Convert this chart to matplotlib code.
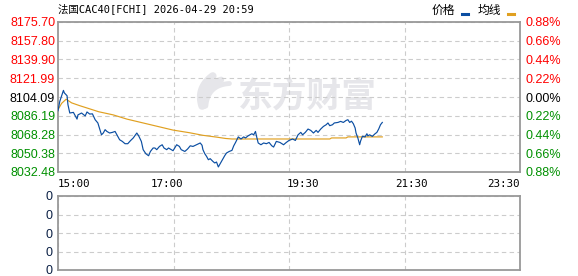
import matplotlib
matplotlib.use("Agg")
import matplotlib.pyplot as plt
import numpy as np
from matplotlib.lines import Line2D

plt.rcParams['font.family'] = ['Liberation Sans', 'Noto Sans CJK SC', 'DejaVu Sans']

title = "法国CAC40[FCHI] 2026-04-29 20:59"
prev_close = 8104.09
price_ticks = [8032.48, 8050.38, 8068.28, 8086.19, 8104.09, 8121.99, 8139.90, 8157.80, 8175.70]
pct_labels = ["0.88%", "0.66%", "0.44%", "0.22%", "0.00%", "0.22%", "0.44%", "0.66%", "0.88%"]
time_ticks = [0, 120, 270, 390, 510]          # minutes after 15:00
time_labels = ["15:00", "17:00", "19:30", "21:30", "23:30"]
vol_ticks = [0, 1, 2, 3, 4]
vol_labels = ["0", "0", "0", "0", "0"]

# price (minutes after 15:00)
price_min = [0, 2, 6, 7, 10, 11, 13, 17, 21, 22, 26, 30, 32, 35, 38, 41, 44, 46, 48, 50,
             52, 54, 57, 60, 63, 66, 68, 71, 74, 77, 80, 83, 87, 89, 92, 94, 97, 100, 102, 105,
             107, 109, 112, 115, 117, 120, 122, 125, 127, 131, 134, 136, 140, 143, 146, 149, 153, 157, 159, 160,
             162, 164, 166, 168, 171, 173, 175, 177, 179, 182, 184, 186, 189, 192, 194, 196, 199, 202, 205, 207,
             210, 214, 216, 218, 219, 221, 224, 227, 230, 233, 236, 238, 241, 245, 249, 252, 255, 259, 262, 265,
             268, 270, 273, 276, 279, 282, 285, 287, 290, 293, 296, 298, 300, 303, 305, 309, 312, 315, 318, 320,
             322, 324, 326, 328, 329, 331, 332, 333, 334, 336, 339, 341, 342, 344, 347, 350, 352, 354, 356, 358]
price_val = [8091.0, 8100.0, 8110.4, 8108.0, 8105.3, 8096.7, 8088.8, 8089.4, 8083.0, 8087.0,
             8088.8, 8086.0, 8089.8, 8087.8, 8088.0, 8082.4, 8079.3, 8073.5, 8068.0, 8069.7,
             8072.9, 8071.2, 8069.7, 8070.3, 8071.2, 8066.5, 8063.3, 8061.7, 8059.5, 8059.5,
             8062.4, 8064.9, 8069.7, 8067.1, 8061.7, 8053.8, 8049.9, 8048.0, 8052.1, 8055.4,
             8055.4, 8053.8, 8056.9, 8058.5, 8055.4, 8053.8, 8055.4, 8053.8, 8052.8, 8058.5,
             8056.9, 8053.8, 8052.1, 8054.4, 8057.5, 8056.9, 8058.5, 8060.2, 8058.0, 8053.8,
             8050.0, 8047.4, 8044.2, 8045.2, 8042.6, 8041.1, 8042.0, 8037.3, 8040.4, 8044.9,
             8048.0, 8050.6, 8052.1, 8053.1, 8057.5, 8060.7, 8066.0, 8064.0, 8066.0, 8065.0,
             8067.1, 8069.0, 8068.0, 8071.2, 8067.1, 8060.2, 8058.5, 8060.2, 8059.5, 8060.7,
             8057.5, 8056.3, 8061.7, 8060.7, 8058.5, 8060.7, 8062.6, 8064.0, 8062.6, 8068.0,
             8070.3, 8068.0, 8070.3, 8073.5, 8072.2, 8069.7, 8072.2, 8070.3, 8073.5, 8076.0,
             8077.6, 8079.3, 8076.7, 8077.6, 8079.3, 8079.8, 8080.8, 8079.8, 8081.7, 8082.4,
             8079.8, 8081.0, 8078.6, 8074.5, 8069.7, 8065.0, 8061.7, 8058.5, 8062.0, 8066.5,
             8066.0, 8069.0, 8067.0, 8068.0, 8066.5, 8069.0, 8070.3, 8073.5, 8077.6, 8079.8]

# average line
avg_min = [0, 4, 9, 15, 24, 32, 45, 61, 76, 94, 110, 127, 145, 160, 175, 185, 192,
           300, 302, 318, 320, 358]
avg_val = [8092.0, 8098.0, 8102.0, 8098.5, 8095.8, 8093.6, 8090.0, 8087.0, 8083.0, 8079.3,
           8076.0, 8072.5, 8070.0, 8067.5, 8065.8, 8064.5, 8064.0, 8064.0, 8065.0, 8065.0,
           8066.0, 8066.0]

RED = "#ff0000"
GREEN = "#009000"
GRID = "#cccccc"
SPINE = "#999999"


def tick_color(v):
    if abs(v - prev_close) < 0.005:
        return "black"
    return RED if v > prev_close else GREEN


W, H = 578, 276
fig = plt.figure(figsize=(W / 100, H / 100), dpi=100)
ax = fig.add_axes([58 / W, 104 / H, 462 / W, 150 / H])
axv = fig.add_axes([58 / W, 6 / H, 462 / W, 74 / H])

quarters = np.linspace(time_ticks[0], time_ticks[-1], 5)

for a in (ax, axv):
    a.set_xlim(time_ticks[0], time_ticks[-1])
    for s in a.spines.values():
        s.set_color(SPINE)
        s.set_linewidth(1.3)
    a.set_xticks(quarters, minor=True)
    a.grid(True, which='minor', axis='x', color=GRID, linestyle=(0, (4, 3)), linewidth=0.8)
    a.grid(True, which='major', axis='y', color=GRID, linestyle=(0, (4, 3)), linewidth=0.8)
    a.tick_params(which='both', length=0)

# main price panel
ax.plot(price_min, price_val, color="#0b4ea2", lw=0.85, zorder=3)
ax.plot(avg_min, avg_val, color="#e0a020", lw=0.85, zorder=2)
ax.set_ylim(price_ticks[0], price_ticks[-1])
ax.set_yticks(price_ticks)
ax.set_yticklabels([f"{v:.2f}" for v in price_ticks], fontsize=9)
for lbl, v in zip(ax.get_yticklabels(), price_ticks):
    lbl.set_color(tick_color(v))
ax.tick_params(axis='y', pad=2)
ax.set_xticks(time_ticks)
ax.set_xticklabels(time_labels, family='DejaVu Sans Mono', fontsize=7.8)
ax.tick_params(axis='x', pad=5)
xl = ax.get_xticklabels()
xl[0].set_ha('left')
xl[-1].set_ha('right')

axr = ax.twinx()
axr.set_ylim(price_ticks[0], price_ticks[-1])
axr.set_yticks(price_ticks)
axr.set_yticklabels(pct_labels, fontsize=9)
for lbl, v in zip(axr.get_yticklabels(), price_ticks):
    lbl.set_color(tick_color(v))
axr.tick_params(length=0, pad=4)
for s in axr.spines.values():
    s.set_visible(False)

# watermark
wm = "#e6e6ea"
ax.text(0.539, 0.505, "东方财富", transform=ax.transAxes, ha='center', va='center',
        fontsize=25, fontweight='bold', color=wm, family='Noto Sans CJK SC', zorder=0)
t = np.linspace(0, 1, 30)
for i, lw in enumerate([5.5, 4.5, 3.5]):
    x0, y0 = 0.312 + 0.004 * i, 0.44
    cx, cy = 0.300 + 0.012 * i, 0.56 + 0.01 * i
    x1, y1 = 0.335 + 0.018 * i, 0.64 - 0.025 * i
    bx = (1 - t) ** 2 * x0 + 2 * (1 - t) * t * cx + t ** 2 * x1
    by = (1 - t) ** 2 * y0 + 2 * (1 - t) * t * cy + t ** 2 * y1
    ax.plot(bx, by, transform=ax.transAxes, color=wm, lw=lw, solid_capstyle='round', zorder=0)

# volume panel (empty)
axv.set_ylim(vol_ticks[0], vol_ticks[-1])
axv.set_yticks(vol_ticks)
axv.set_yticklabels(vol_labels, fontsize=9, color="#0a1f44")
axv.set_xticks([])
axv.tick_params(axis='y', pad=4)

# title and legend
fig.text(58 / W, 1 - 9 / H, title, va='center', ha='left', fontsize=7.5,
         family=['DejaVu Sans Mono', 'Noto Sans CJK SC'])
fig.text(432 / W, 1 - 10 / H, "价格", va='center', ha='left', fontsize=8.5, family='Noto Sans CJK SC')
fig.text(478 / W, 1 - 10 / H, "均线", va='center', ha='left', fontsize=8.5, family='Noto Sans CJK SC')
fig.add_artist(Line2D([462 / W, 468 / W], [1 - 14 / H] * 2, color="#0b4ea2", lw=2.2,
                      transform=fig.transFigure))
fig.add_artist(Line2D([508 / W, 514 / W], [1 - 14 / H] * 2, color="#e0a020", lw=2.2,
                      transform=fig.transFigure))

fig.savefig("out.png", dpi=100)
